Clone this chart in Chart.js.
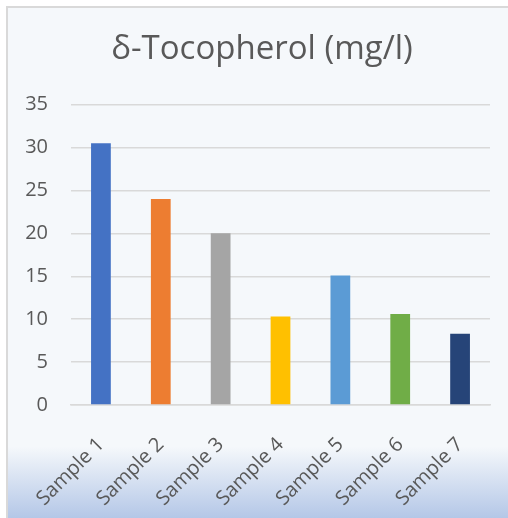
<!DOCTYPE html>
<html>
<head>
<meta charset="utf-8">
<script src="https://cdn.jsdelivr.net/npm/chart.js@4/dist/chart.umd.min.js"></script>
<style>
  body { margin: 0; background: #fff; }
  #wrap {
    position: absolute; left: 6px; top: 6px;
    width: 500px; height: 510px;
    border-top: 2px solid #d9d9d9; border-left: 2px solid #d9d9d9;
    background: linear-gradient(to bottom, #f5f8fb 0%, #f5f8fb 86%, #b4c7e7 100%);
  }
</style>
</head>
<body>
<div id="wrap"><canvas id="tocoChart" width="500" height="510"></canvas></div>
<script>
// data
var samples = ['Sample 1', 'Sample 2', 'Sample 3', 'Sample 4', 'Sample 5', 'Sample 6', 'Sample 7'];
var tocopherol = [30.5, 24, 20, 10.3, 15.1, 10.6, 8.3];
var barColors = ['#4472c4', '#ed7d31', '#a5a5a5', '#ffc000', '#5b9bd5', '#70ad47', '#264478'];

var fontName = "'Open Sans', sans-serif";

var chartdata = {
    labels: samples,
    datasets: [
        {
            label: 'δ-Tocopherol (mg/l)',
            backgroundColor: barColors,
            data: tocopherol,
            barPercentage: 0.55,
            categoryPercentage: 0.6
        }
    ]
};

var ctx = document.getElementById('tocoChart');
var barGraph = new Chart(ctx, {
    type: 'bar',
    data: chartdata,
    options: {
        responsive: false,
        animation: false,
        layout: { padding: { left: 8, right: 0, top: 0, bottom: 0 } },
        plugins: {
            legend: { display: false },
            tooltip: { enabled: false },
            title: {
                display: true,
                text: 'δ-Tocopherol (mg/l)',
                color: '#595959',
                font: { family: fontName, size: 33, weight: 'normal' },
                padding: { top: 22, bottom: 35 }
            }
        },
        scales: {
            y: {
                min: 0,
                max: 35,
                ticks: {
                    stepSize: 5,
                    color: '#595959',
                    font: { family: fontName, size: 20 },
                    padding: 23
                },
                grid: { color: '#d9d9d9', lineWidth: 1.5, drawTicks: false },
                border: { display: false },
                afterFit: function (s) { s.width = 55; }
            },
            // empty right axis, only keeps the plot off the right edge
            yr: {
                position: 'right',
                grid: { display: false },
                ticks: { display: false },
                border: { display: false },
                afterFit: function (s) { s.width = 18; }
            },
            x: {
                ticks: {
                    color: '#595959',
                    font: { family: fontName, size: 20 },
                    maxRotation: 45,
                    minRotation: 45,
                    padding: 20
                },
                grid: { display: false },
                border: { color: '#d9d9d9', width: 1.5 },
                afterFit: function (s) { s.height = 113; }
            }
        }
    }
});
</script>
</body>
</html>
